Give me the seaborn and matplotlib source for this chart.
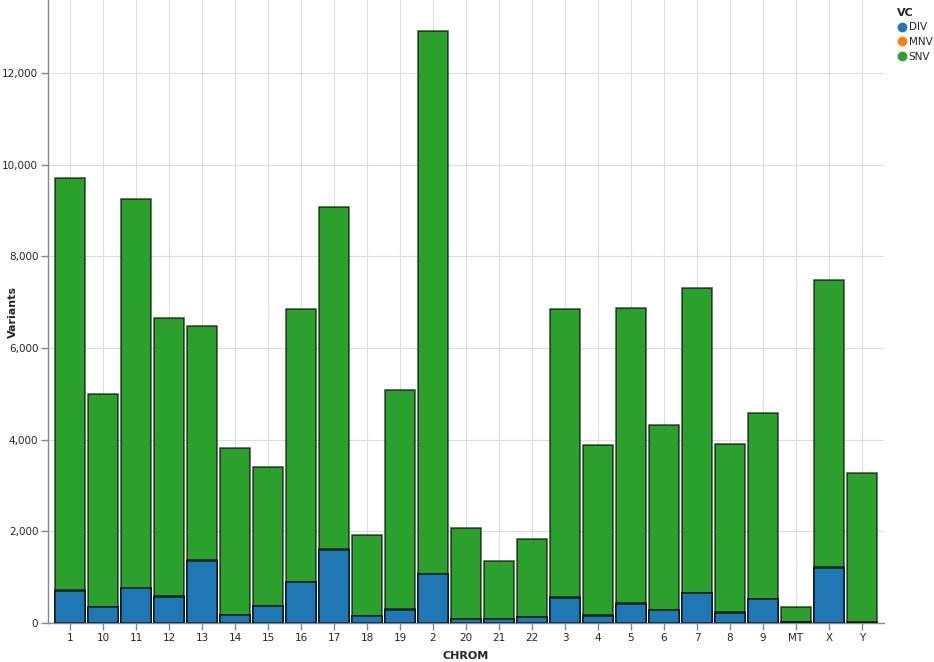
import matplotlib
matplotlib.use("Agg")
import matplotlib.pyplot as plt
import matplotlib.ticker as mticker
from matplotlib.lines import Line2D
import seaborn as sns
import numpy as np

# chromosome order as strings (sorted lexically, like the source chart)
chroms = ["1", "10", "11", "12", "13", "14", "15", "16", "17", "18", "19", "2",
          "20", "21", "22", "3", "4", "5", "6", "7", "8", "9", "MT", "X", "Y"]

# variant counts per class
div = [700, 345, 755, 578, 1358, 170, 366, 892, 1603, 152, 290, 1063,
       82, 82, 126, 556, 156, 421, 279, 646, 228, 519, 14, 1202, 10]
mnv = [14, 10, 12, 10, 12, 9, 10, 12, 18, 8, 7, 14,
       9, 9, 9, 10, 9, 7, 9, 12, 9, 10, 6, 14, 5]
snv = [8990, 4640, 8490, 6070, 5110, 3640, 3030, 5950, 7450, 1755, 4790, 11840,
       1985, 1265, 1690, 6290, 3720, 6450, 4030, 6650, 3670, 4055, 327, 6270, 3260]

colors = {"DIV": "#1f77b4", "MNV": "#ff7f0e", "SNV": "#2ca02c"}

div = np.array(div)
mnv = np.array(mnv)
snv = np.array(snv)
top_div = div
top_mnv = div + mnv
top_snv = div + mnv + snv

sns.set_style("white")
plt.rcParams['font.family'] = ['DejaVu Sans']

fig = plt.figure(figsize=(9.34, 6.62), dpi=100)
ax = fig.add_axes([48 / 934, 39 / 662, 836 / 934, 623 / 662])

# draw stacked bars from the top layer down
for vals, key in [(top_snv, "SNV"), (top_mnv, "MNV"), (top_div, "DIV")]:
    sns.barplot(x=chroms, y=vals, order=chroms, color=colors[key], saturation=1,
                width=0.9, edgecolor=(0, 0, 0, 0.7), linewidth=1.1, ax=ax, zorder=3)

ax.set_ylim(0, 13594)
ax.set_xlim(-0.667, len(chroms) - 1 + 0.667)
ax.yaxis.set_major_locator(mticker.MultipleLocator(2000))
ax.yaxis.set_major_formatter(mticker.FuncFormatter(lambda v, p: f"{int(v):,}"))
ax.grid(True, color="#dddddd", linewidth=0.8, zorder=0)
ax.set_axisbelow(True)

for s in ["top", "right"]:
    ax.spines[s].set_visible(False)
for s in ["left", "bottom"]:
    ax.spines[s].set_color("#888888")
    ax.spines[s].set_linewidth(1)

ax.tick_params(axis="both", labelsize=7.5, length=5, color="#888888", width=1,
               left=True, bottom=True, pad=2)
ax.set_xlabel("CHROM", fontsize=8, fontweight="bold", labelpad=6)
ax.set_ylabel("Variants", fontsize=8, fontweight="bold")
ax.yaxis.set_label_coords(-30 / 836, 0.5)

handles = [Line2D([0], [0], marker="o", linestyle="", markersize=6,
                  markerfacecolor=colors[k], markeredgecolor=colors[k], label=k)
           for k in ["DIV", "MNV", "SNV"]]
leg = fig.legend(handles=handles, title="VC", loc="upper left",
                 bbox_to_anchor=(891 / 934, 0.998), frameon=False, fontsize=7.5,
                 title_fontsize=8, handletextpad=0.1, labelspacing=0.45,
                 borderaxespad=0.2, handlelength=1.0)
leg.get_title().set_fontweight("bold")
leg._legend_box.align = "left"

fig.savefig("out.png", dpi=100)
